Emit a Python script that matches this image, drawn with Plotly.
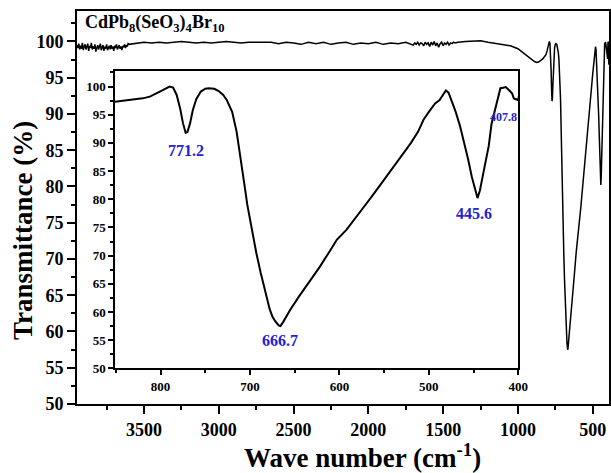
import plotly.graph_objects as go

# ---- data ----
noisy_wn = list(range(3948, 3599, -6))
noisy_t = [99.5, 99.1, 99.7, 98.9, 99.4, 99.0, 99.8, 98.8, 99.3, 99.6,
           98.9, 99.2, 99.7, 98.7, 99.4, 99.1, 99.8, 98.9, 99.3, 99.0,
           99.6, 98.6, 99.2, 99.5, 98.9, 99.3, 99.7, 98.8, 99.1, 99.5,
           98.7, 99.3, 99.0, 99.6, 98.8, 99.2, 99.4, 98.9, 99.5, 99.0,
           99.3, 98.7, 99.4, 99.1, 99.6, 98.9, 99.2, 99.5, 99.0, 99.3,
           98.8, 99.4, 99.2, 99.6, 99.1, 99.5, 99.3, 99.7, 99.6]

flat_wn = list(range(3550, 1699, -50))
flat_t = [99.8, 99.9, 99.8, 99.9, 99.8, 99.9, 100.0, 99.9, 99.8, 99.9,
          99.8, 99.9, 100.0, 99.9, 99.8, 99.9, 99.9, 99.8, 99.9, 99.7,
          99.9, 99.8, 99.6, 99.9, 99.7, 99.9, 99.6, 99.8, 99.9, 99.6,
          99.8, 99.7, 99.9, 99.6, 99.8, 99.7, 99.9, 99.5]

dense_wn = list(range(1690, 1399, -10))
dense_t = [99.8, 99.6, 99.9, 99.5, 99.8, 99.7, 99.4, 99.9, 99.6, 99.8,
           99.3, 99.9, 99.5, 100.0, 99.4, 99.8, 99.2, 99.7, 99.9, 99.4,
           99.8, 99.6, 99.9, 99.5, 99.8, 99.7, 99.9, 99.8, 99.9, 99.9]

band_wn = [1350, 1300, 1250, 1200, 1150, 1100, 1050, 1000, 964, 930, 900, 886, 874, 860,
           851, 840, 830, 820, 812, 805, 797, 790, 786, 782, 778, 775, 772, 770,
           767, 764, 760, 755, 750, 746, 740, 735, 730, 726, 720, 715, 710, 707,
           703, 698, 693, 688, 683, 678, 675, 672, 668, 666, 663, 660, 655, 645,
           633, 622, 610, 603, 592, 580, 570, 560, 550, 540, 532, 520, 512, 506,
           500, 493, 488, 484, 481, 478, 474, 470, 465, 460, 456, 452, 448, 445.6,
           443, 440, 437, 433, 430, 426, 423, 420, 417, 414, 410, 407, 405, 402,
           400, 398, 396, 394, 392, 391]
band_t = [100.0, 100.1, 100.1, 99.9, 99.7, 99.6, 99.4, 99.0, 98.4, 97.8, 97.4, 97.2, 97.1, 97.2,
          97.3, 97.5, 97.7, 97.9, 98.2, 98.7, 99.4, 100.0, 99.8, 98.5, 96.0, 93.5, 91.8, 91.9,
          93.5, 95.8, 97.8, 99.1, 99.6, 99.7, 99.6, 99.2, 98.5, 97.6, 95.5, 92.0, 87.0, 83.4,
          79.0, 74.5, 70.5, 66.9, 63.5, 60.5, 59.2, 58.4, 57.6, 57.5, 58.2, 59.0, 60.4, 62.8,
          65.5, 68.0, 71.0, 72.8, 74.6, 77.0, 79.2, 81.3, 83.5, 85.6, 87.3, 90.0, 92.0, 94.1,
          95.5, 97.0, 97.6, 98.5, 99.3, 98.9, 97.3, 95.5, 92.9, 89.8, 87.0, 84.0, 81.5, 80.2,
          81.5, 84.0, 85.8, 89.5, 93.3, 96.0, 97.8, 99.7, 99.8, 99.9, 99.3, 98.8, 97.9, 97.8,
          97.6, 99.8, 97.0, 100.0, 96.8, 99.5]

wavenumber = noisy_wn + flat_wn + dense_wn + band_wn
transmittance = noisy_t + flat_t + dense_t + band_t

main_xticks = [3500, 3000, 2500, 2000, 1500, 1000, 500]
main_yticks = [50, 55, 60, 65, 70, 75, 80, 85, 90, 95, 100]
inset_xticks = [800, 700, 600, 500, 400]
inset_yticks = [50, 55, 60, 65, 70, 75, 80, 85, 90, 95, 100]

peak_labels = ["771.2", "666.7", "445.6", "407.8"]
peak_x = [771.6, 667.0, 449.4, 416.0]
peak_y = [88.6, 54.9, 77.5, 94.6]
peak_sizes = [16, 16, 16, 12]

# ---- figure ----
FONT = "Liberation Serif"
BLUE = "#2222d4"

fig = go.Figure()
fig.add_trace(go.Scatter(x=wavenumber, y=transmittance, mode="lines",
                         line=dict(color="black", width=1.5),
                         xaxis="x", yaxis="y", showlegend=False, hoverinfo="skip"))
fig.add_trace(go.Scatter(x=wavenumber, y=transmittance, mode="lines",
                         line=dict(color="black", width=2),
                         xaxis="x2", yaxis="y2", showlegend=False, hoverinfo="skip"))

axis_common = dict(showline=True, linecolor="black", mirror=True, ticks="outside",
                   tickcolor="black", showgrid=False, zeroline=False, automargin=False)

fig.update_layout(
    template="none",
    width=611, height=473,
    margin=dict(l=77, r=2, t=11, b=69),
    paper_bgcolor="white", plot_bgcolor="white",
    font=dict(family=FONT, color="black"),
    xaxis=dict(**axis_common, domain=[0, 1], range=[3948, 391],
               tickvals=main_xticks, ticklen=8, tickwidth=2, linewidth=2,
               minor=dict(dtick=250, tick0=0, ticklen=4, tickwidth=2, ticks="outside", tickcolor="black",
                          showgrid=False),
               tickfont=dict(family=FONT, size=18, weight="bold")),
    yaxis=dict(**axis_common, domain=[0, 1], range=[50, 104.2],
               tickvals=main_yticks, ticklen=8, tickwidth=2, linewidth=2,
               minor=dict(dtick=2.5, tick0=0, ticklen=4, tickwidth=2, ticks="outside", tickcolor="black",
                          showgrid=False),
               tickfont=dict(family=FONT, size=18, weight="bold")),
    xaxis2=dict(**axis_common, domain=[0.0714, 0.8295], anchor="y2", range=[851, 400],
                tickvals=inset_xticks, ticklen=5, tickwidth=1.5, linewidth=1.5,
                minor=dict(dtick=50, tick0=0, ticklen=3, tickwidth=1.5, ticks="outside", tickcolor="black",
                           showgrid=False),
                tickfont=dict(family=FONT, size=13, weight="bold")),
    yaxis2=dict(**axis_common, domain=[0.0908, 0.848], anchor="x2", range=[50, 102.8],
                tickvals=inset_yticks, ticklen=5, tickwidth=1.5, linewidth=1.5,
                minor=dict(dtick=2.5, tick0=0, ticklen=3, tickwidth=1.5, ticks="outside", tickcolor="black",
                           showgrid=False),
                tickfont=dict(family=FONT, size=13, weight="bold")),
)

# axis titles as annotations for precise placement
fig.add_annotation(x=0.536, y=-0.133, xref="paper", yref="paper", xanchor="center", yanchor="middle",
                   text="Wave number (cm<sup>-1</sup>)", showarrow=False,
                   font=dict(family=FONT, size=27, color="black", weight="bold"))
fig.add_annotation(x=-0.1015, y=0.44, xref="paper", yref="paper", xanchor="center", yanchor="middle",
                   text="Transmittance (%)", textangle=-90, showarrow=False,
                   font=dict(family=FONT, size=27, color="black", weight="bold"))

for lab, px, py, fs in zip(peak_labels, peak_x, peak_y, peak_sizes):
    fig.add_annotation(x=px, y=py, xref="x2", yref="y2", text=lab, showarrow=False,
                       font=dict(family=FONT, size=fs, color=BLUE, weight="bold"))

fig.add_annotation(x=0.012, y=0.968, xref="paper", yref="paper", xanchor="left", yanchor="middle",
                   text="CdPb<sub>8</sub>(SeO<sub>3</sub>)<sub>4</sub>Br<sub>10</sub>",
                   showarrow=False, font=dict(family=FONT, size=18, color="black", weight="bold"))

fig.write_html("out.html")
